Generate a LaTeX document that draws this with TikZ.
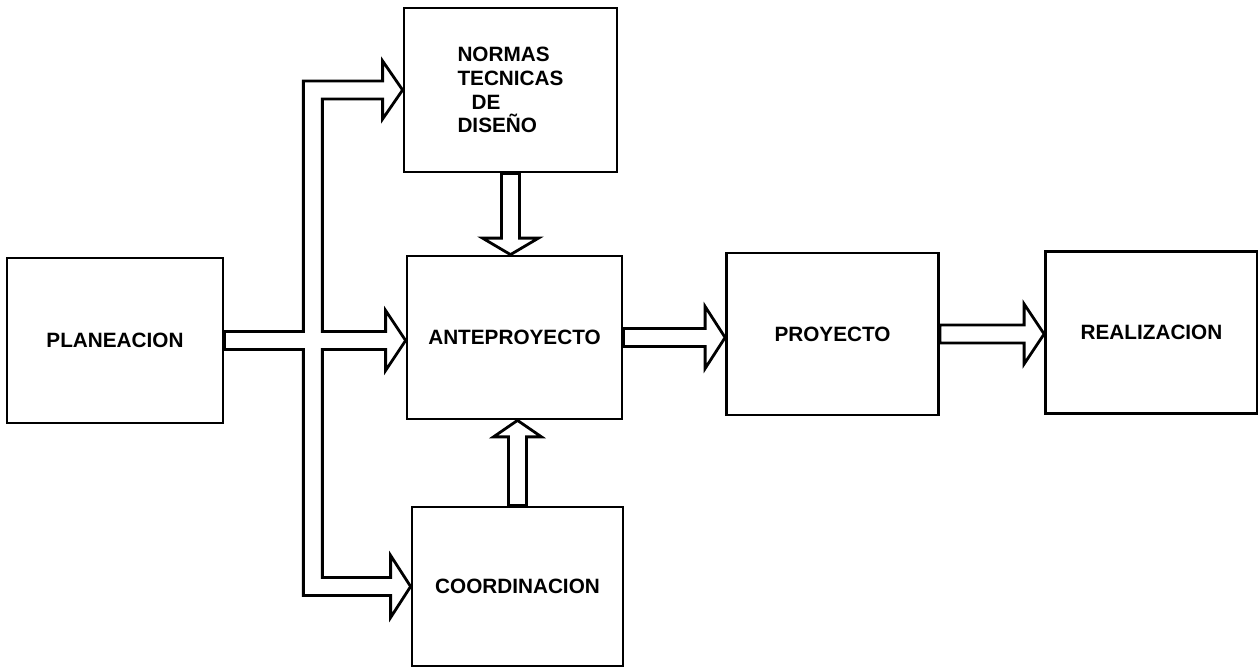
\documentclass[tikz,border=0pt]{standalone}
\usepackage{fontspec}
\setmainfont{Liberation Sans}
\usetikzlibrary{calc}

% hollow block arrow: from, to, head length, head half width
\newcommand{\fatarrow}[4]{%
  \coordinate (hb) at ($(#2)!#3!(#1)$);
  \draw[fat] ($(#1)!0.18cm!90:(#2)$) -- ($(hb)!0.18cm!90:(#2)$) -- ($(hb)!#4!90:(#2)$) -- (#2)
    -- ($(hb)!#4!-90:(#2)$) -- ($(hb)!0.18cm!-90:(#2)$) -- ($(#1)!0.18cm!-90:(#2)$) -- cycle;
}

\begin{document}
\begin{tikzpicture}[
    x=0.02cm, y=-0.02cm,
    box/.style={rectangle, draw=black, line width=1.6pt, align=center, inner sep=0pt,
      font=\fontsize{11.8}{13.6}\selectfont\bfseries, minimum width=4.24cm, minimum height=3.24cm},
    fat/.style={draw=black, line width=1.6pt, line join=miter, fill=white}
]
\useasboundingbox (0,0) rectangle (1258,668);

\node[box, minimum width=4.32cm, minimum height=3.3cm] (plan) at (115, 340.5) {PLANEACION};
\node[box, align=left, minimum width=4.26cm, minimum height=3.28cm] (normas) at (510.5, 90) {NORMAS\\TECNICAS\\\hspace*{8pt}DE\\DISEÑO};
\node[box, minimum width=4.3cm, minimum height=3.26cm] (ante) at (514.5, 337.5) {ANTEPROYECTO};
\node[box, minimum width=4.22cm, minimum height=3.18cm] (coord) at (517.5, 586.5) {COORDINACION};
\node[box] (proy) at (832.5, 334) {PROYECTO};
\node[box] (real) at (1151.5, 332.5) {REALIZACION};

% branching arrow out of planeacion
\coordinate (tipT) at (normas.west);
\coordinate (tipM) at (ante.west |- plan.east);
\coordinate (tipB) at (coord.west);
\coordinate (wl) at ($(plan.east)+(79,0)$);
\coordinate (wr) at ($(plan.east)+(98,0)$);
\draw[fat]
  ($(plan.east)+(0,-9)$) -- ($(wl)+(0,-9)$)
  -- ($(wl |- tipT)+(0,-9)$) -- ($(tipT)+(-20,-9)$) -- ($(tipT)+(-20,-29)$) -- (tipT)
  -- ($(tipT)+(-20,29)$) -- ($(tipT)+(-20,9)$) -- ($(wr |- tipT)+(0,9)$)
  -- ($(wr)+(0,-9)$) -- ($(tipM)+(-20,-9)$) -- ($(tipM)+(-20,-30)$) -- (tipM)
  -- ($(tipM)+(-20,30)$) -- ($(tipM)+(-20,9)$) -- ($(wr)+(0,9)$)
  -- ($(wr |- tipB)+(0,-9)$) -- ($(tipB)+(-20,-9)$) -- ($(tipB)+(-20,-31)$) -- (tipB)
  -- ($(tipB)+(-20,31)$) -- ($(tipB)+(-20,9)$) -- ($(wl |- tipB)+(0,9)$)
  -- ($(wl)+(0,9)$) -- ($(plan.east)+(0,9)$) -- cycle;

\fatarrow{normas.south}{normas.south |- ante.north}{0.33cm}{0.56cm}
\fatarrow{coord.north}{coord.north |- ante.south}{0.33cm}{0.48cm}
\fatarrow{ante.east}{proy.west |- ante.east}{0.4cm}{0.62cm}
\fatarrow{proy.east}{real.west |- proy.east}{0.4cm}{0.6cm}

\end{tikzpicture}
\end{document}
